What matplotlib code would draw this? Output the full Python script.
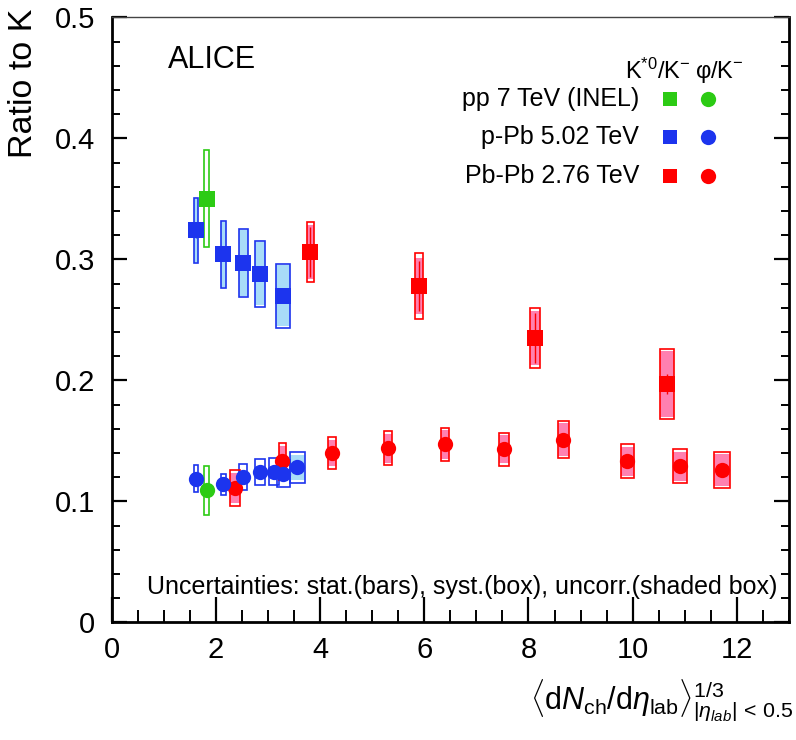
import matplotlib
matplotlib.use("Agg")
import matplotlib.pyplot as plt
import numpy as np

plt.rcParams['font.family'] = ['Liberation Sans', 'DejaVu Sans']
plt.rcParams['mathtext.fontset'] = 'custom'
plt.rcParams['mathtext.rm'] = 'Liberation Sans'
plt.rcParams['mathtext.it'] = 'Liberation Sans:italic'
plt.rcParams['mathtext.bf'] = 'Liberation Sans:bold'

# ---------------- data ----------------
# pp 7 TeV (INEL)
pp_x = [1.82]
pp_kst = [0.350]
pp_kst_sys = [0.040]
pp_phi = [0.109]
pp_phi_sys = [0.020]
pp_xw = [0.05]

# p-Pb 5.02 TeV, K*0/K-
ppb_kst_x = [1.62, 2.14, 2.53, 2.85, 3.29]
ppb_kst = [0.324, 0.304, 0.297, 0.288, 0.270]
ppb_kst_sys = [0.027, 0.028, 0.028, 0.0275, 0.0265]
ppb_kst_unc = [0.026, 0.027, 0.027, 0.026, 0.025]
ppb_kst_stat = [0.006, 0.005, 0.005, 0.005, 0.006]
ppb_kst_xw = [0.032, 0.045, 0.077, 0.09, 0.128]

# p-Pb 5.02 TeV, phi/K-
ppb_phi_x = [1.62, 2.14, 2.52, 2.85, 3.12, 3.29, 3.56]
ppb_phi = [0.1187, 0.114, 0.120, 0.124, 0.1245, 0.123, 0.128]
ppb_phi_sys = [0.011, 0.009, 0.0105, 0.0107, 0.011, 0.011, 0.0127]
ppb_phi_unc = [0.004, 0.004, 0.004, 0.004, 0.004, 0.004, 0.010]
ppb_phi_xw = [0.032, 0.045, 0.077, 0.096, 0.10, 0.125, 0.144]

# Pb-Pb 2.76 TeV, K*0/K-
pbpb_kst_x = [3.81, 5.90, 8.13, 10.66]
pbpb_kst = [0.306, 0.278, 0.235, 0.197]
pbpb_kst_sys = [0.025, 0.027, 0.025, 0.029]
pbpb_kst_unc = [0.022, 0.023, 0.022, 0.027]
pbpb_kst_stat = [0.021, 0.021, 0.021, 0.008]
pbpb_kst_xw = [0.07, 0.077, 0.10, 0.135]

# Pb-Pb 2.76 TeV, phi/K-
pbpb_phi_x = [2.37, 3.27, 4.23, 5.30, 6.40, 7.53, 8.67, 9.90, 10.91, 11.71]
pbpb_phi = [0.111, 0.133, 0.140, 0.144, 0.147, 0.143, 0.151, 0.133, 0.129, 0.126]
pbpb_phi_sys = [0.0145, 0.015, 0.013, 0.014, 0.014, 0.0135, 0.0155, 0.014, 0.014, 0.015]
pbpb_phi_unc = [0.0125, 0.013, 0.011, 0.012, 0.012, 0.0115, 0.0135, 0.012, 0.012, 0.013]
pbpb_phi_xw = [0.096, 0.067, 0.074, 0.08, 0.08, 0.093, 0.108, 0.13, 0.14, 0.15]

legend_rows = ["pp 7 TeV (INEL)", "p-Pb 5.02 TeV", "Pb-Pb 2.76 TeV"]

GREEN = '#2ccb14'
BLUE = '#1c34ee'
RED = '#ff0000'
LBLUE = '#a8dcf8'
PINK = '#ff80b0'

fig = plt.figure(figsize=(7.96, 7.40), dpi=100)
ax = fig.add_axes([0.1403, 0.1590, 0.8509, 0.8176])


def boxes(x, y, half, xw, face, edge, lw=1.2, z=2):
    x = np.asarray(x); y = np.asarray(y); half = np.asarray(half); xw = np.asarray(xw)
    ax.bar(x, 2 * half, width=2 * xw, bottom=y - half, color=face,
           edgecolor=edge, linewidth=lw, zorder=z)


def stat(x, y, e, color, z=3):
    ax.errorbar(x, y, yerr=e, fmt='none', ecolor=color, elinewidth=1.0, capsize=0, zorder=z)


# pp
boxes(pp_x, pp_kst, pp_kst_sys, pp_xw, 'none', GREEN)
boxes(pp_x, pp_phi, pp_phi_sys, pp_xw, 'none', GREEN)

# p-Pb
boxes(ppb_kst_x, ppb_kst, ppb_kst_unc, ppb_kst_xw, LBLUE, 'none', lw=0)
boxes(ppb_kst_x, ppb_kst, ppb_kst_sys, ppb_kst_xw, 'none', BLUE)
stat(ppb_kst_x, ppb_kst, ppb_kst_stat, BLUE)
boxes(ppb_phi_x, ppb_phi, ppb_phi_unc, ppb_phi_xw, LBLUE, 'none', lw=0)
boxes(ppb_phi_x, ppb_phi, ppb_phi_sys, ppb_phi_xw, 'none', BLUE)

# Pb-Pb
boxes(pbpb_kst_x, pbpb_kst, pbpb_kst_unc, pbpb_kst_xw, PINK, 'none', lw=0)
boxes(pbpb_kst_x, pbpb_kst, pbpb_kst_sys, pbpb_kst_xw, 'none', RED)
stat(pbpb_kst_x, pbpb_kst, pbpb_kst_stat, RED)
boxes(pbpb_phi_x, pbpb_phi, pbpb_phi_unc, pbpb_phi_xw, PINK, 'none', lw=0)
boxes(pbpb_phi_x, pbpb_phi, pbpb_phi_sys, pbpb_phi_xw, 'none', RED)

# markers
ms_sq = 11.5
ms_ci = 11
ax.plot(pbpb_phi_x, pbpb_phi, 'o', color=RED, ms=ms_ci, mew=0, zorder=5)
ax.plot(pbpb_kst_x, pbpb_kst, 's', color=RED, ms=ms_sq, mew=0, zorder=5)
ax.plot(ppb_phi_x, ppb_phi, 'o', color=BLUE, ms=ms_ci, mew=0, zorder=6)
ax.plot(ppb_kst_x, ppb_kst, 's', color=BLUE, ms=ms_sq, mew=0, zorder=6)
ax.plot(pp_x, pp_phi, 'o', color=GREEN, ms=ms_ci, mew=0, zorder=7)
ax.plot(pp_x, pp_kst, 's', color=GREEN, ms=ms_sq, mew=0, zorder=7)

# axes
ax.set_xlim(0, 13)
ax.set_ylim(0, 0.5)
ax.set_xticks(np.arange(0, 13, 2))
ax.set_xticks(np.arange(0, 13.01, 0.5), minor=True)
ax.set_yticks(np.arange(0, 0.51, 0.1))
ax.set_yticks(np.arange(0, 0.501, 0.02), minor=True)
ax.set_xticklabels(['0', '2', '4', '6', '8', '10', '12'])
ax.set_yticklabels(['0', '0.1', '0.2', '0.3', '0.4', '0.5'])
ax.tick_params(axis='x', which='major', direction='in', length=18, width=1.6,
               labelsize=21, pad=10, top=False)
ax.tick_params(axis='x', which='minor', direction='in', length=9, width=1.4, top=False)
ax.tick_params(axis='y', which='major', direction='in', length=11, width=1.6,
               labelsize=21, pad=12, right=True)
ax.tick_params(axis='y', which='minor', direction='in', length=6, width=1.4, right=True)
for s in ['left', 'bottom', 'right']:
    ax.spines[s].set_linewidth(2.0)
ax.spines['top'].set_linewidth(1.0)
ax.spines['top'].set_color('#444444')

# texts
ax.text(0.083, 0.929, 'ALICE', transform=ax.transAxes, fontsize=22,
        ha='left', va='center')
ax.text(0.855, 0.910, r'K$^{*0}$/K$^{-}$', transform=ax.transAxes, fontsize=17,
        ha='right', va='center')
ax.text(0.861, 0.910, '\u03c6/K$^{-}$', transform=ax.transAxes, fontsize=17,
        ha='left', va='center')
row_y = [0.865, 0.802, 0.738]
row_col = [GREEN, BLUE, RED]
for lab, yy, c in zip(legend_rows, row_y, row_col):
    ax.text(0.7785, yy, lab, transform=ax.transAxes, fontsize=18, ha='right', va='center')
    ax.plot([0.825], [yy], 's', color=c, ms=10.5, mew=0, transform=ax.transAxes, clip_on=False)
    ax.plot([0.881], [yy], 'o', color=c, ms=11, mew=0, transform=ax.transAxes, clip_on=False)

ax.text(0.518, 0.058, 'Uncertainties: stat.(bars), syst.(box), uncorr.(shaded box)',
        transform=ax.transAxes, fontsize=18, ha='center', va='center')

fig.text(0.030, 0.989, 'Ratio to K', rotation=90, fontsize=24.5, ha='center', va='top')
fig.text(0.996, 0.054,
         r'$\langle\mathrm{d}N_{\mathrm{ch}}/\mathrm{d}\eta_{\mathrm{lab}}\rangle^{1/3}_{|\eta_{lab}|\,<\,0.5}$',
         fontsize=22, ha='right', va='center')

fig.savefig('out.png', dpi=100)
